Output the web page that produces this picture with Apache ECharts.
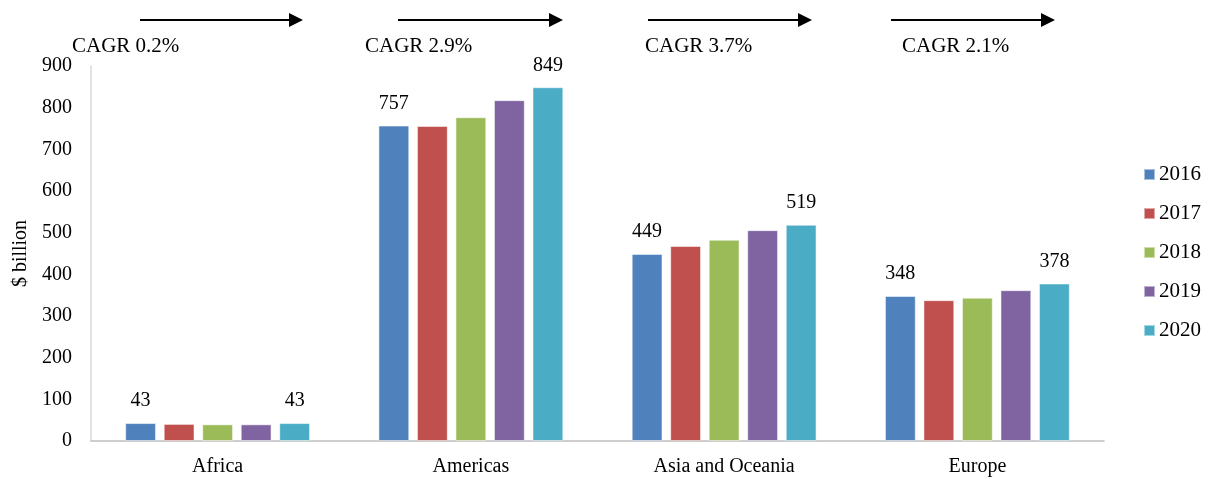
<!DOCTYPE html>
<html>
<head>
<meta charset="utf-8">
<script src="https://cdn.jsdelivr.net/npm/echarts@6/dist/echarts.min.js"></script>
<style>
  html, body { margin: 0; padding: 0; background: #fff; }
  #chart { width: 1218px; height: 479px; }
</style>
</head>
<body>
<div id="chart"></div>
<script>
// Regional values, $ billion
const regions = ['Africa', 'Americas', 'Asia and Oceania', 'Europe'];
const years = ['2016', '2017', '2018', '2019', '2020'];
const v2016 = [43, 757, 449, 348];
const v2017 = [41, 756, 468, 338];
const v2018 = [40, 777, 483, 344];
const v2019 = [40, 818, 506, 362];
const v2020 = [43, 849, 519, 378];
const cagrLabels = ['CAGR 0.2%', 'CAGR 2.9%', 'CAGR 3.7%', 'CAGR 2.1%'];
const yTicks = { min: 0, max: 900, interval: 100 };

const colors = ['#4F81BD', '#C0504D', '#9BBB59', '#8064A2', '#4BACC6'];
const seriesValues = [v2016, v2017, v2018, v2019, v2020];
const font = 'Liberation Serif, Times New Roman, serif';

const chart = echarts.init(document.getElementById('chart'));

const series = years.map((y, i) => ({
  name: y,
  type: 'bar',
  data: seriesValues[i],
  barGap: '25%',
  barCategoryGap: '27%',
  itemStyle: { color: colors[i], borderColor: 'rgba(255,255,255,0.5)', borderWidth: 1 },
  label: {
    show: i === 0 || i === years.length - 1,
    position: 'top',
    distance: 12,
    color: '#000',
    fontFamily: font,
    fontSize: 20
  }
}));

// Growth arrows and CAGR captions above each region
const arrowSpans = [[140, 303, 72], [398, 563, 365], [648, 812, 645], [891, 1055, 902]];
const graphics = [];
arrowSpans.forEach((s, i) => {
  graphics.push({
    type: 'line',
    shape: { x1: s[0], y1: 20, x2: s[1] - 12, y2: 20 },
    style: { stroke: '#000', lineWidth: 2 }
  });
  graphics.push({
    type: 'polygon',
    shape: { points: [[s[1] - 14, 13], [s[1], 20], [s[1] - 14, 27]] },
    style: { fill: '#000' }
  });
  graphics.push({
    type: 'text',
    left: s[2],
    top: 36,
    style: { text: cagrLabels[i], fill: '#000', font: '21px ' + font }
  });
});

chart.setOption({
  animation: false,
  color: colors,
  grid: { left: 91, right: 114, top: 66, bottom: 38, containLabel: false, outerBoundsMode: 'none' },
  legend: {
    orient: 'vertical',
    right: 12,
    top: 159,
    itemWidth: 11,
    itemHeight: 11,
    itemGap: 18,
    icon: 'rect',
    textStyle: { fontFamily: font, fontSize: 21, color: '#000', padding: [0, 0, 0, -1] },
    data: years
  },
  xAxis: {
    type: 'category',
    data: regions,
    axisLine: { lineStyle: { color: '#BFBFBF', width: 1.5 } },
    axisTick: { show: false },
    axisLabel: { color: '#000', fontFamily: font, fontSize: 20, margin: 16 }
  },
  yAxis: {
    type: 'value',
    min: yTicks.min,
    max: yTicks.max,
    interval: yTicks.interval,
    name: '$ billion',
    nameLocation: 'middle',
    nameGap: 59,
    nameRotate: 90,
    nameTextStyle: { color: '#000', fontFamily: font, fontSize: 20 },
    axisLine: { show: true, lineStyle: { color: '#D9D9D9', width: 1.5 } },
    axisTick: { show: false },
    splitLine: { show: false },
    axisLabel: { color: '#000', fontFamily: font, fontSize: 20, margin: 19 }
  },
  series: series,
  graphic: graphics
});
</script>
</body>
</html>
